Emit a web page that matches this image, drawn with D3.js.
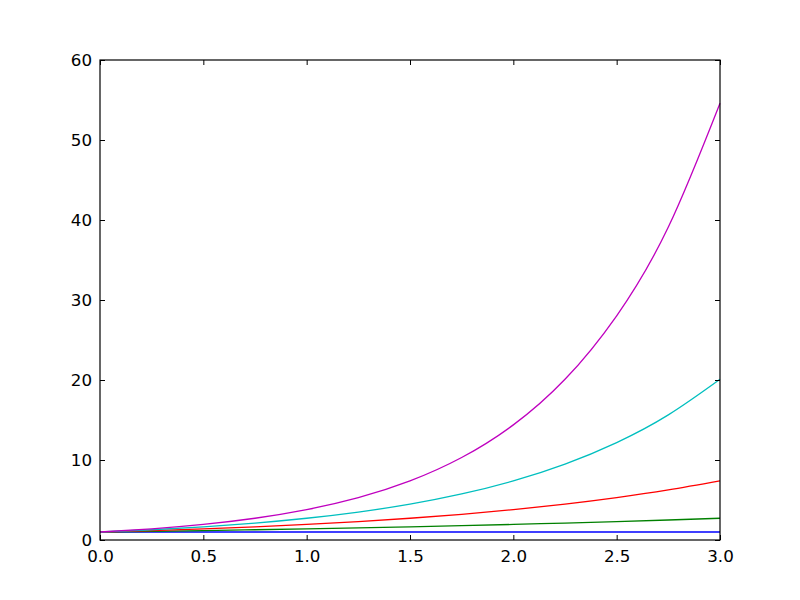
<!DOCTYPE html>
<html><head><meta charset="utf-8">
<script src="https://cdn.jsdelivr.net/npm/d3@7"></script>
<style>body{margin:0;background:#fff}svg{display:block}text{font-family:"DejaVu Sans",sans-serif}</style>
</head><body>
<svg id="c" width="800" height="600"></svg>
<script>
const xs = [0, 0.25, 0.5, 0.75, 1, 1.25, 1.5, 1.75, 2, 2.25, 2.5, 2.75, 3];
const blue    = [1, 1, 1, 1, 1, 1, 1, 1, 1, 1, 1, 1, 1];
const green   = [1, 1.087, 1.181, 1.284, 1.396, 1.517, 1.649, 1.792, 1.948, 2.117, 2.301, 2.501, 2.718];
const red     = [1, 1.181, 1.396, 1.649, 1.948, 2.301, 2.718, 3.211, 3.794, 4.482, 5.294, 6.255, 7.389];
const cyan    = [1, 1.284, 1.649, 2.117, 2.718, 3.490, 4.482, 5.755, 7.389, 9.488, 12.18, 15.64, 20.09];
const magenta = [1, 1.396, 1.948, 2.718, 3.794, 5.294, 7.389, 10.31, 14.39, 20.09, 28.03, 39.12, 54.60];
const seriesList = [blue, green, red, cyan, magenta];
const colors = ["#0000ff", "#008000", "#ff0000", "#00bfbf", "#bf00bf"];
const xTicks = [0, 0.5, 1, 1.5, 2, 2.5, 3];
const yTicks = [0, 10, 20, 30, 40, 50, 60];

const svg = d3.select("#c");
const L = 100, R = 720, T = 60, B = 540;
const x = d3.scaleLinear().domain([0, 3]).range([L, R]);
const y = d3.scaleLinear().domain([0, 60]).range([B, T]);

const line = d3.line().x((d, i) => x(xs[i])).y(d => y(d)).curve(d3.curveNatural);
const g = svg.append("g");
seriesList.forEach((s, k) => {
  g.append("path").datum(s).attr("d", line).attr("fill", "none")
    .attr("stroke", colors[k]).attr("stroke-width", 1.3);
});

const tl = 5;
const fmt = d3.format(".1f");
const axB = d3.axisBottom(x).tickValues(xTicks).tickFormat(fmt).tickSizeInner(-tl).tickSizeOuter(0).tickPadding(10);
const axT = d3.axisTop(x).tickValues(xTicks).tickFormat("").tickSizeInner(-tl).tickSizeOuter(0);
const axLf = d3.axisLeft(y).tickValues(yTicks).tickFormat(d3.format("d")).tickSizeInner(-tl).tickSizeOuter(0).tickPadding(8);
const axRt = d3.axisRight(y).tickValues(yTicks).tickFormat("").tickSizeInner(-tl).tickSizeOuter(0);

function style(sel){
  sel.select(".domain").remove();
  sel.selectAll("line").attr("stroke", "#000").attr("stroke-width", 1);
  sel.selectAll("text").attr("font-size", 16.7).attr("fill", "#000").attr("font-family", "DejaVu Sans");
}
svg.append("g").attr("transform", `translate(0,${B})`).call(axB).call(style);
svg.append("g").attr("transform", `translate(0,${T})`).call(axT).call(style);
svg.append("g").attr("transform", `translate(${L},0)`).call(axLf).call(style);
svg.append("g").attr("transform", `translate(${R},0)`).call(axRt).call(style);

svg.append("rect").attr("x", L).attr("y", T).attr("width", R - L).attr("height", B - T)
  .attr("fill", "none").attr("stroke", "#000").attr("stroke-width", 1.2);
</script>
</body></html>
